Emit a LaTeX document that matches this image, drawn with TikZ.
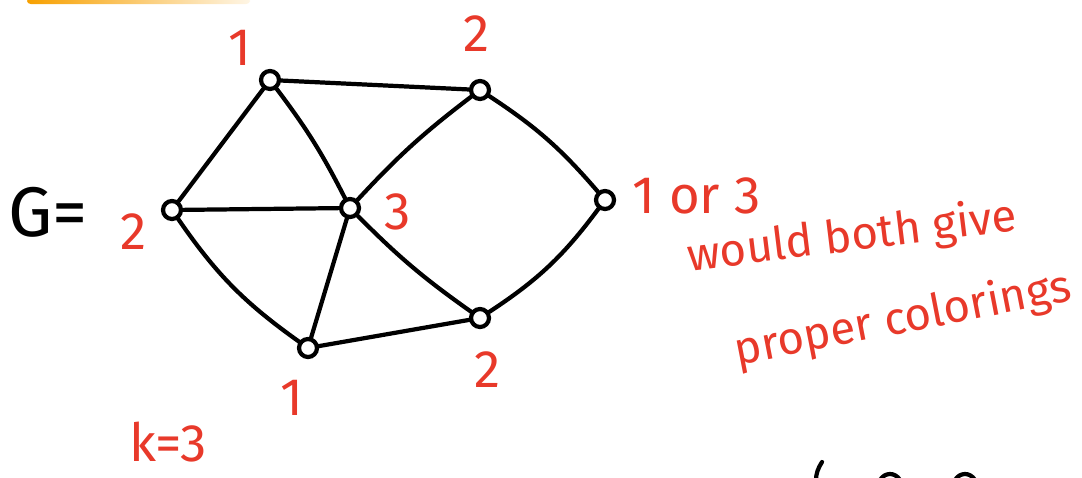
\documentclass[tikz,border=0pt]{standalone}
\usepackage{fontspec}
\setmainfont{Fira Sans}
\definecolor{inkred}{HTML}{E8392A}
\definecolor{inkorange}{HTML}{F7A000}
\begin{document}
\begin{tikzpicture}[x=0.02cm,y=-0.02cm,
  vtx/.style={circle,draw=black,line width=2.4pt,inner sep=0pt,minimum size=0.36cm,fill=white},
  edge/.style={draw=black,line width=2.4pt,line cap=round},
  lab/.style={text=inkred,font=\fontsize{30}{32}\selectfont,inner sep=0pt},
  note/.style={text=inkred,font=\fontsize{26}{28}\selectfont,inner sep=0pt}]
\useasboundingbox (0,0) rectangle (1082,477);
% orange stroke at top
\shade[left color=inkorange,right color=inkorange!10,rounded corners=2pt] (27,-2) rectangle (250,4);
% vertices
\node[vtx] (A) at (270,80) {};
\node[vtx] (B) at (480,90) {};
\node[vtx] (C) at (172,210) {};
\node[vtx] (D) at (350,208) {};
\node[vtx] (E) at (605,200) {};
\node[vtx] (F) at (480,318) {};
\node[vtx] (H) at (308,348) {};
% edges
\draw[edge] (A) -- (B);
\draw[edge] (A) -- (C);
\draw[edge] (A) to[bend left=5] (D);
\draw[edge] (B) to[bend right=5] (D);
\draw[edge] (B) to[bend left=8] (E);
\draw[edge] (C) -- (D);
\draw[edge] (C) to[bend right=10] (H);
\draw[edge] (D) -- (H);
\draw[edge] (D) to[bend right=5] (F);
\draw[edge] (F) to[bend right=10] (E);
\draw[edge] (H) -- (F);
% labels
\node[lab] (lA) at (240,48) {1};
\node[lab] (lB) at (477,34) {2};
\node[lab] (lC) at (134,232) {2};
\node[lab] (lD) at (398,212) {3};
\node[lab] (lF) at (488,370) {2};
\node[lab] (lH) at (292,398) {1};
\node[lab,anchor=west] (lE) at (632,196) {1 or 3};
\node[note,rotate=7] (n1) at (852,238) {would both give};
\node[note,rotate=11] (n2) at (903,320) {proper colorings};
\node[lab,font=\fontsize{40}{42}\selectfont,text=black] (G) at (48,212) {G=};
\node[lab] (k) at (168,442) {k=3};
% partial strokes bottom right
\draw[edge] (822,462) .. controls (818,468) and (816,474) .. (816,480);
\draw[edge] (880,480) .. controls (885,472) and (895,472) .. (900,480);
\draw[edge] (955,480) .. controls (960,472) and (970,472) .. (975,480);
\end{tikzpicture}
\end{document}
